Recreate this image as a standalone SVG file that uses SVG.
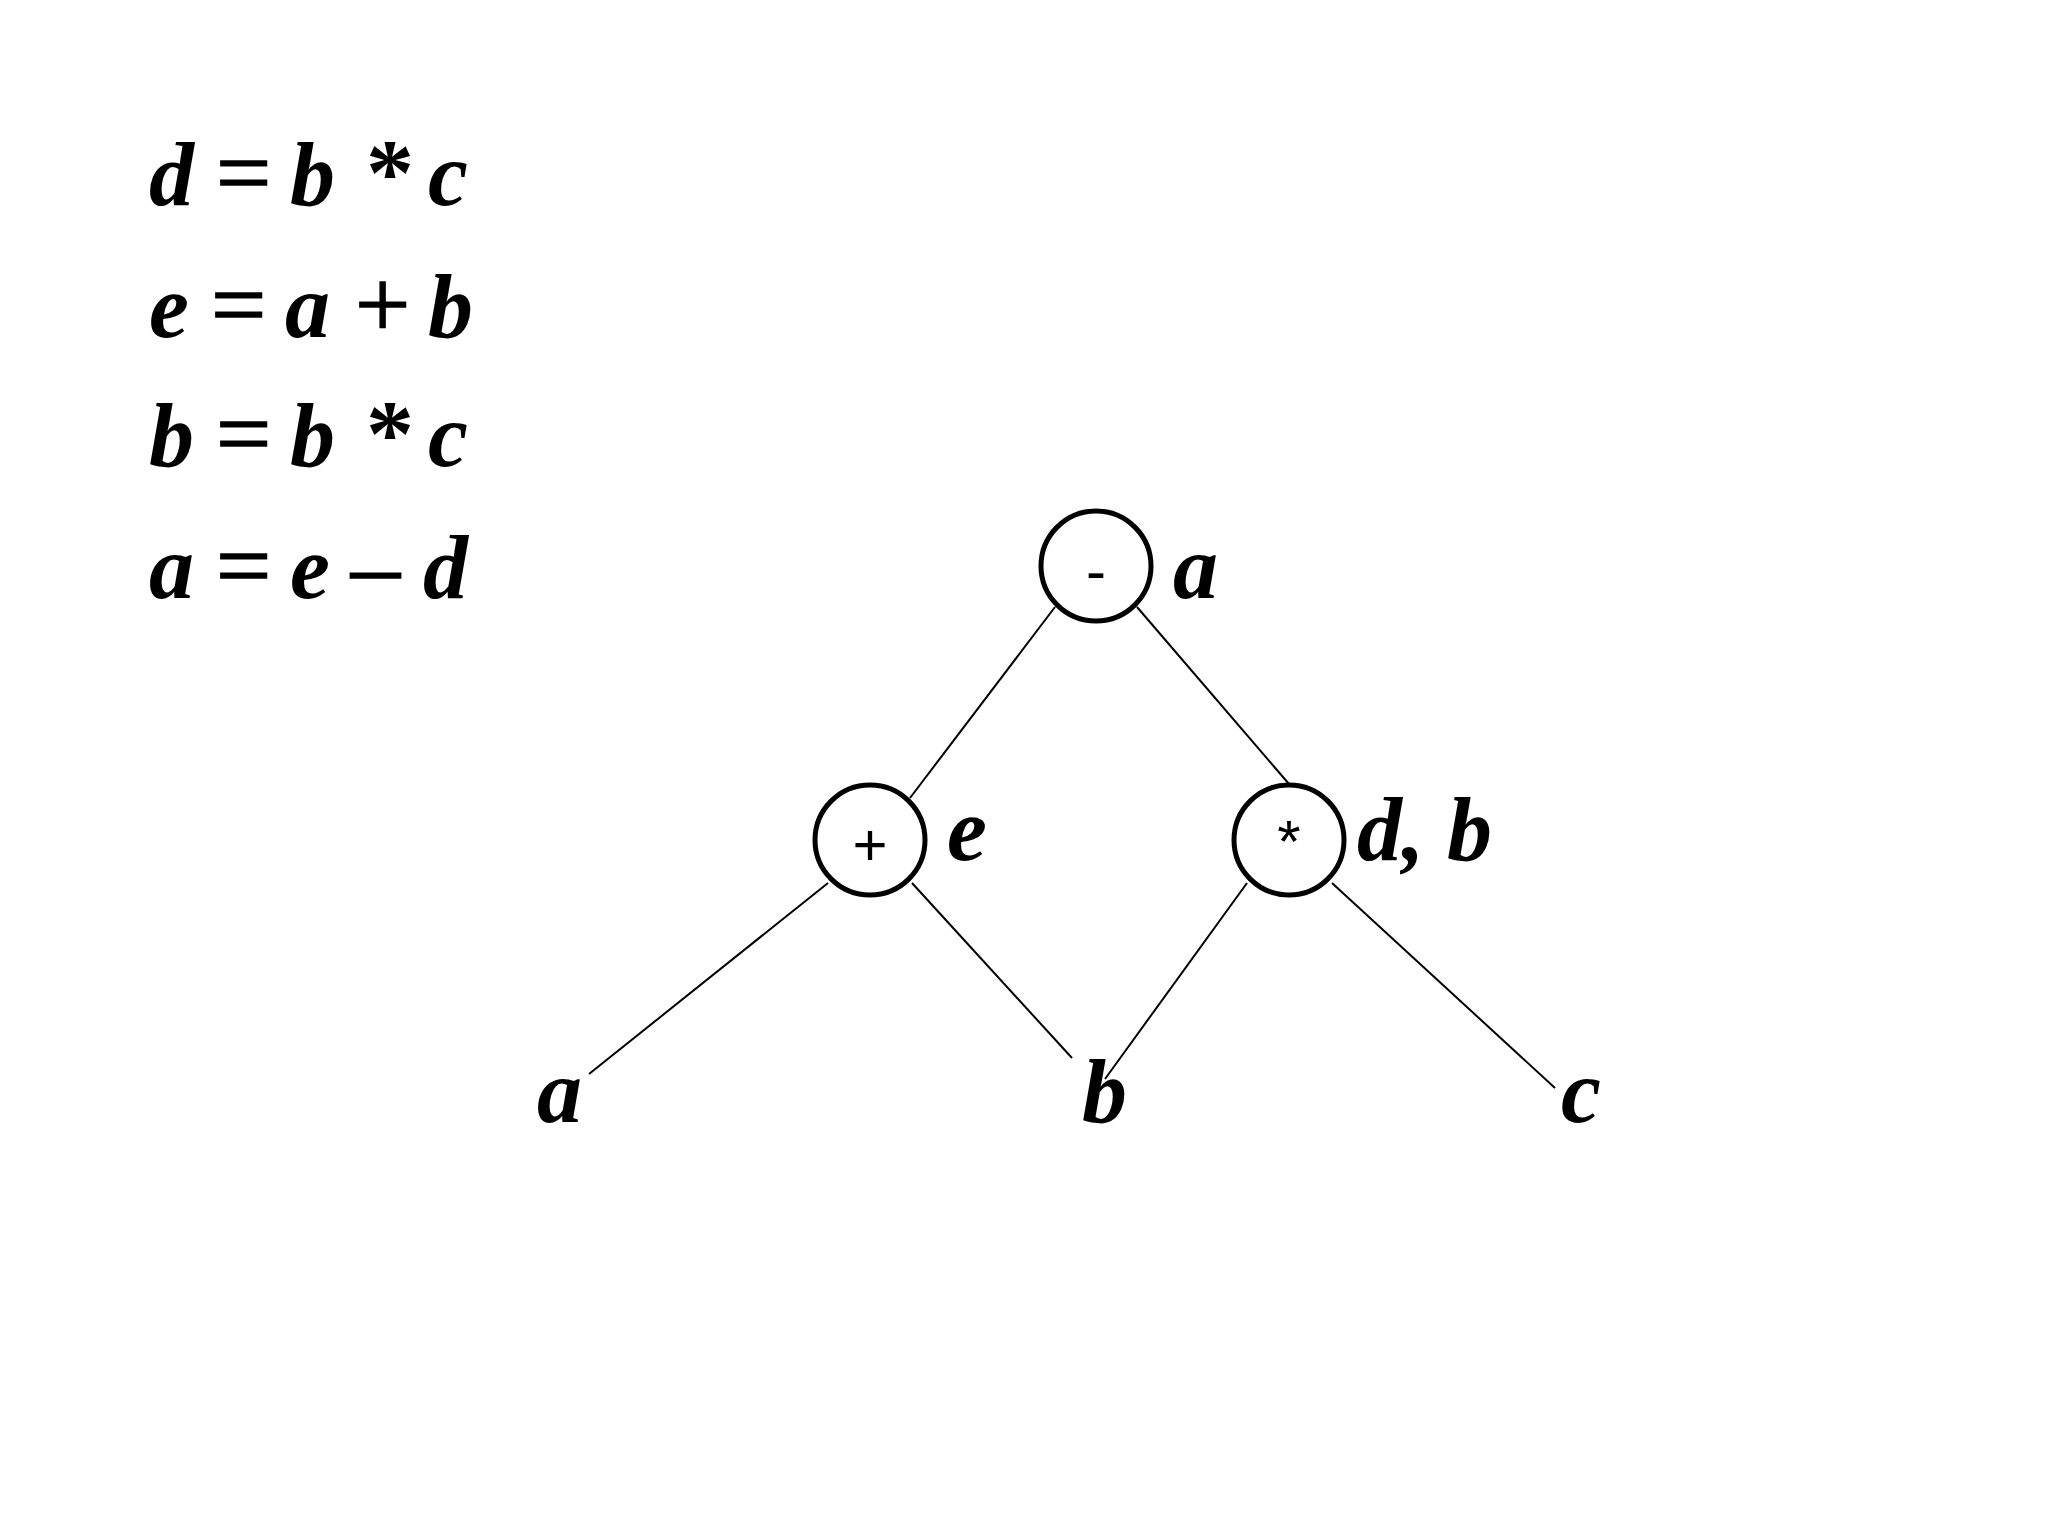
<svg xmlns="http://www.w3.org/2000/svg" width="2048" height="1536" viewBox="0 0 2048 1536">
<style>
.v{font-family:"Liberation Serif","Times New Roman",serif;font-style:italic;font-weight:bold;font-size:90px;fill:#000}
.o{font-family:"Liberation Serif","Times New Roman",serif;font-size:98px;fill:#000;stroke:#000;stroke-width:1.5}
.s{font-family:"Liberation Serif","Times New Roman",serif;font-weight:bold;font-size:96px;fill:#000}
.n{fill:#fff;stroke:#000;stroke-width:5}
.op{font-family:"Liberation Sans",Arial,sans-serif;font-size:60px;fill:#000;text-anchor:middle}
.e{stroke:#000;stroke-width:2;fill:none}
</style>
<rect width="2048" height="1536" fill="#fff"/>
<g id="equations">
<text y="205"><tspan class="v" x="149">d</tspan><tspan class="o" x="216">=</tspan><tspan class="v" x="290">b</tspan><tspan class="s" x="366">*</tspan><tspan class="v" x="428">c</tspan></text>
<text y="337"><tspan class="v" x="149">e</tspan><tspan class="o" x="211">=</tspan><tspan class="v" x="285">a</tspan><tspan class="o" x="355">+</tspan><tspan class="v" x="428">b</tspan></text>
<text y="466"><tspan class="v" x="149">b</tspan><tspan class="o" x="216">=</tspan><tspan class="v" x="290">b</tspan><tspan class="s" x="366">*</tspan><tspan class="v" x="428">c</tspan></text>
<text y="598"><tspan class="v" x="149">a</tspan><tspan class="o" x="216">=</tspan><tspan class="v" x="290">e</tspan><tspan class="o" x="351">–</tspan><tspan class="v" x="423">d</tspan></text>
</g>
<g id="connectors">
<line class="e" x1="1055" y1="607" x2="910" y2="798"/>
<line class="e" x1="1137" y1="607" x2="1289" y2="784"/>
<line class="e" x1="828" y1="883" x2="589" y2="1074"/>
<line class="e" x1="912" y1="883" x2="1072" y2="1058"/>
<line class="e" x1="1247" y1="883" x2="1105" y2="1079"/>
<line class="e" x1="1332" y1="883" x2="1555" y2="1088"/>
</g>
<g id="node-minus">
<circle class="n" cx="1096" cy="566" r="55"/>
<text class="op" x="1096" y="591">-</text>
<text class="v" x="1173" y="598">a</text>
</g>
<g id="node-plus">
<circle class="n" cx="870" cy="840" r="55"/>
<text class="op" x="870" y="865">+</text>
<text class="v" x="947" y="860">e</text>
</g>
<g id="node-times">
<circle class="n" cx="1289" cy="840" r="55"/>
<text class="op" x="1289" y="862">*</text>
<text class="v" x="1357" y="860">d, b</text>
</g>
<g id="leaf-a"><text class="v" x="537" y="1122">a</text></g>
<g id="leaf-b"><text class="v" x="1082" y="1122">b</text></g>
<g id="leaf-c"><text class="v" x="1561" y="1122">c</text></g>
</svg>
